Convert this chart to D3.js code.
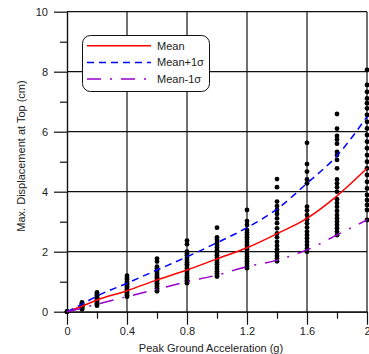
<!DOCTYPE html>
<html>
<head>
<meta charset="utf-8">
<script src="https://cdn.jsdelivr.net/npm/d3@7"></script>
<style>
  html, body { margin: 0; padding: 0; background: #fff; }
  svg { display: block; font-family: "Liberation Sans", Arial, sans-serif; }
</style>
</head>
<body>
<svg id="chart" width="369" height="354"></svg>
<script>
// ground motion levels (g)
const pga = [0, 0.1, 0.2, 0.4, 0.6, 0.8, 1.0, 1.2, 1.4, 1.6, 1.8, 2.0];
// statistics curves (cm)
const meanDisp = [0, 0.18, 0.39, 0.7, 1.06, 1.39, 1.76, 2.13, 2.6, 3.11, 3.86, 4.78];
const meanPlus = [0, 0.25, 0.52, 0.95, 1.39, 1.83, 2.3, 2.8, 3.42, 4.28, 5.2, 6.5];
const meanMinus = [0, 0.12, 0.25, 0.5, 0.75, 1.0, 1.22, 1.5, 1.72, 2.06, 2.56, 3.06];
// individual records (cm), one list per pga level
const records = [
  [0, 0, 0],
  [0.08, 0.1, 0.12, 0.14, 0.16, 0.18, 0.2, 0.22, 0.25, 0.28, 0.31],
  [0.2, 0.24, 0.28, 0.32, 0.36, 0.4, 0.44, 0.48, 0.52, 0.56, 0.6, 0.64],
  [0.5, 0.55, 0.6, 0.65, 0.7, 0.75, 0.8, 0.85, 0.9, 0.95, 1.0, 1.07, 1.13, 1.2],
  [0.68, 0.72, 0.78, 0.84, 0.9, 0.95, 1.0, 1.05, 1.1, 1.15, 1.2, 1.26, 1.32, 1.38, 1.45, 1.5, 1.67, 1.77],
  [0.95, 1.0, 1.05, 1.1, 1.15, 1.2, 1.26, 1.32, 1.38, 1.45, 1.52, 1.58, 1.65, 1.72, 1.8, 1.88, 1.95, 2.0, 2.25, 2.37],
  [1.17, 1.22, 1.28, 1.35, 1.42, 1.5, 1.58, 1.65, 1.72, 1.8, 1.88, 1.96, 2.05, 2.14, 2.22, 2.3, 2.4, 2.48, 2.8],
  [1.45, 1.52, 1.6, 1.68, 1.76, 1.84, 1.92, 2.0, 2.08, 2.16, 2.24, 2.32, 2.4, 2.48, 2.56, 2.64, 2.72, 2.89, 3.02, 3.39],
  [1.68, 1.77, 1.86, 1.97, 2.08, 2.2, 2.33, 2.48, 2.61, 2.78, 2.95, 3.11, 3.26, 3.39, 3.52, 3.67, 4.15, 4.42],
  [2.0, 2.11, 2.22, 2.33, 2.45, 2.56, 2.67, 2.81, 2.95, 3.08, 3.22, 3.37, 3.5, 4.28, 4.41, 4.67, 4.92, 5.63],
  [2.55, 2.67, 2.78, 2.89, 3.0, 3.11, 3.22, 3.36, 3.5, 3.62, 3.75, 4.0, 4.15, 4.28, 4.41, 4.78, 5.06, 5.22, 5.33, 5.6, 5.74, 5.86, 6.1, 6.59],
  [3.06, 3.39, 3.56, 3.72, 3.89, 4.11, 4.33, 4.56, 4.78, 5.0, 5.22, 5.45, 5.67, 5.89, 6.11, 6.33, 6.56, 6.78, 6.95, 7.11, 7.33, 7.56, 8.06]
];
const xMajor = [0, 0.4, 0.8, 1.2, 1.6, 2];
const xMinor = [0.2, 0.6, 1.0, 1.4, 1.8];
const yMajor = [0, 2, 4, 6, 8, 10];
const yMinor = [1, 3, 5, 7, 9];
const legendNames = ['Mean', 'Mean+1\u03c3', 'Mean-1\u03c3'];

const svg = d3.select('#chart');
const x = d3.scaleLinear().domain([0, 2]).range([67, 367]);
const y = d3.scaleLinear().domain([0, 10]).range([311.7, 11.7]);
const ink = '#111';

// grid
const grid = svg.append('g').attr('stroke', ink).attr('stroke-width', 1.2);
grid.selectAll('.vg').data(xMajor.slice(1)).enter().append('line')
  .attr('x1', d => x(d)).attr('x2', d => x(d))
  .attr('y1', y(0)).attr('y2', y(10));
grid.selectAll('.hg').data(yMajor.slice(1)).enter().append('line')
  .attr('x1', x(0)).attr('x2', x(2))
  .attr('y1', d => y(d)).attr('y2', d => y(d));

// axes
function styleAxis(g) {
  g.select('.domain').attr('stroke', ink).attr('stroke-width', 1.2);
  g.selectAll('.tick line').attr('stroke', ink).attr('stroke-width', 1.2);
  g.selectAll('.tick text').attr('font-size', '11px').attr('fill', '#222')
    .attr('font-family', '"Liberation Sans", Arial, sans-serif');
}
svg.append('g').attr('transform', `translate(0,${y(0)})`)
  .call(d3.axisBottom(x).tickValues(xMinor).tickSize(7).tickSizeOuter(0).tickFormat(''))
  .call(styleAxis);
svg.append('g').attr('transform', `translate(0,${y(0)})`)
  .call(d3.axisBottom(x).tickValues(xMajor).tickSize(13).tickSizeOuter(0).tickPadding(3)
    .tickFormat(d3.format('')))
  .call(styleAxis);
svg.append('g').attr('transform', `translate(${x(0)},0)`)
  .call(d3.axisLeft(y).tickValues(yMinor).tickSize(7).tickSizeOuter(0).tickFormat(''))
  .call(styleAxis);
svg.append('g').attr('transform', `translate(${x(0)},0)`)
  .call(d3.axisLeft(y).tickValues(yMajor).tickSize(13).tickSizeOuter(0).tickPadding(6)
    .tickFormat(d3.format('')))
  .call(styleAxis);

// records
const pts = [];
records.forEach((list, i) => list.forEach(v => pts.push({ g: pga[i], v })));
svg.append('g').selectAll('circle').data(pts).enter().append('circle')
  .attr('cx', d => x(d.g)).attr('cy', d => y(d.v)).attr('r', 2.4).attr('fill', '#000');

// curves
const series = [
  { vals: meanDisp, color: '#ff0000', dash: null },
  { vals: meanPlus, color: '#0000ff', dash: '7,5' },
  { vals: meanMinus, color: '#9900cc', dash: '14,9,2,9' }
];
const line = d3.line().x(d => x(d[0])).y(d => y(d[1])).curve(d3.curveMonotoneX);
series.forEach(s => {
  svg.append('path')
    .datum(pga.map((g, i) => [g, s.vals[i]]))
    .attr('d', line).attr('fill', 'none')
    .attr('stroke', s.color).attr('stroke-width', 1.5)
    .attr('stroke-dasharray', s.dash);
});

// legend
const lg = svg.append('g');
lg.append('rect').attr('x', 82.5).attr('y', 35.5).attr('width', 127).attr('height', 56)
  .attr('rx', 8).attr('fill', '#fff').attr('stroke', ink).attr('stroke-width', 1);
legendNames.forEach((name, i) => {
  const ly = 45.7 + i * 16.7;
  lg.append('line').attr('x1', 87).attr('x2', 151).attr('y1', ly).attr('y2', ly)
    .attr('stroke', series[i].color).attr('stroke-width', 1.5)
    .attr('stroke-dasharray', series[i].dash);
  lg.append('text').attr('x', 157).attr('y', ly + 4).attr('font-size', '11px')
    .attr('fill', '#222').text(name);
});

// axis titles
svg.append('text').attr('x', 211).attr('y', 352).attr('text-anchor', 'middle')
  .attr('font-size', '11px').attr('fill', '#222').text('Peak Ground Acceleration (g)');
svg.append('text').attr('transform', 'translate(25,156) rotate(-90)').attr('text-anchor', 'middle')
  .attr('font-size', '11px').attr('fill', '#222').text('Max. Displacement at Top (cm)');
</script>
</body>
</html>
